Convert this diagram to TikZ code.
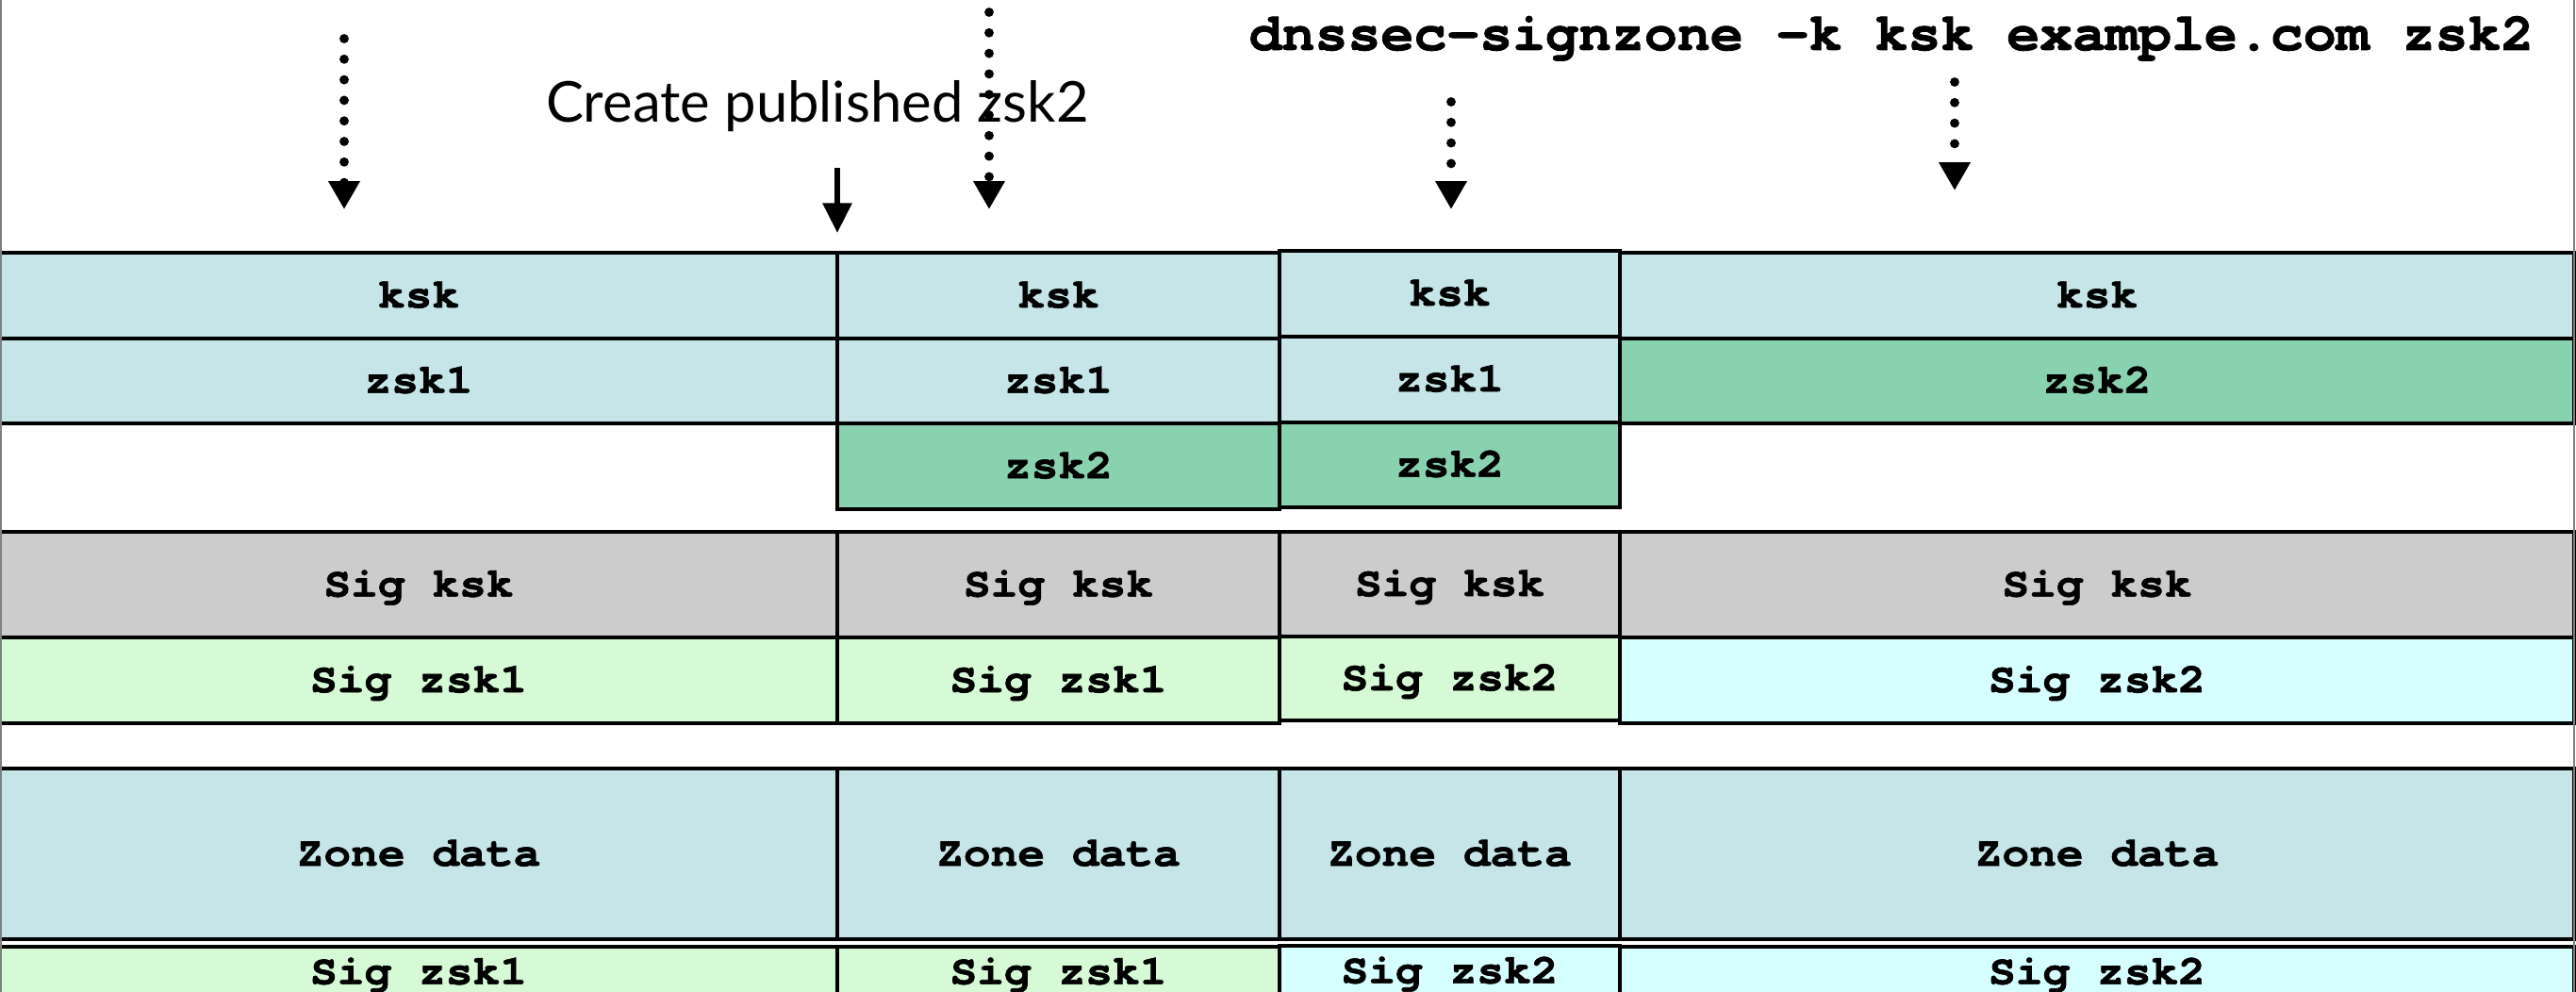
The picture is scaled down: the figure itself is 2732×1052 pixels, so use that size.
\documentclass[tikz,border=0pt]{standalone}
\usepackage{fontspec}
\setmonofont{texgyrecursor}[Extension=.otf, UprightFont=*-regular, BoldFont=*-bold, BoldFeatures={FakeBold=1.5}]
\setsansfont{Lato}
\usetikzlibrary{arrows.meta}
\definecolor{kblue}{HTML}{C5E5E8}
\definecolor{zgreen}{HTML}{89D2B0}
\definecolor{sgray}{HTML}{CCCCCC}
\definecolor{lgreen}{HTML}{D6FAD6}
\definecolor{lcyan}{HTML}{D6FFFF}
\newcommand\mytt[1]{\scalebox{1.09}[1]{#1}}
\newcommand\myhdr[1]{\scalebox{1.035}[1]{#1}}
\newcommand\mkcell[7]{%
  \pgfmathsetmacro\cw{(#4-#2)*0.01}%
  \pgfmathsetmacro\ch{(#5-#3)*0.01}%
  \node[cell, fill=#6, minimum width=\cw cm, minimum height=\ch cm] (#1) at ({(#2+#4)/2},{(#3+#5)/2}) {\mytt{#7}};}
\begin{document}
\begin{tikzpicture}[x=0.01cm,y=-0.01cm,
  cell/.style={draw=black, line width=0.9pt, inner sep=0pt,
    font=\ttfamily\bfseries\fontsize{12.5}{14}\selectfont,
    text height=7.2pt, text depth=0pt},
  hdr/.style={inner sep=0pt, font=\ttfamily\bfseries\fontsize{16}{18}\selectfont},
  lbl/.style={inner sep=0pt, font=\sffamily\fontsize{17}{20}\selectfont},
  dotarrow/.style={line width=2.8pt, dash pattern=on 0pt off 6.2pt, line cap=round,
    -{Triangle[length=8.5pt,width=9pt]}},
  solidarrow/.style={line width=1.8pt, -{Triangle[length=9pt,width=8.5pt]}},
  frame/.style={draw=gray, line width=0.8pt}]
\useasboundingbox (0,0) rectangle (2732,1052);
\clip (0,0) rectangle (2732,1052);
\fill[white] (0,0) rectangle (2732,1052);
% column 1
\mkcell{aksk}{0}{268}{888}{359}{kblue}{ksk}
\mkcell{azsk1}{0}{359}{888}{449}{kblue}{zsk1}
\mkcell{asigk}{0}{564}{888}{676}{sgray}{Sig ksk}
\mkcell{asigz}{0}{676}{888}{767}{lgreen}{Sig zsk1}
\mkcell{azone}{0}{815}{888}{996}{kblue}{Zone data}
\mkcell{abot}{0}{1004}{888}{1058}{lgreen}{Sig zsk1}
% column 2
\mkcell{bksk}{888}{268}{1357}{359}{kblue}{ksk}
\mkcell{bzsk1}{888}{359}{1357}{449}{kblue}{zsk1}
\mkcell{bzsk2}{888}{449}{1357}{540}{zgreen}{zsk2}
\mkcell{bsigk}{888}{564}{1357}{676}{sgray}{Sig ksk}
\mkcell{bsigz}{888}{676}{1357}{767}{lgreen}{Sig zsk1}
\mkcell{bzone}{888}{815}{1357}{996}{kblue}{Zone data}
\mkcell{bbot}{888}{1004}{1357}{1058}{lgreen}{Sig zsk1}
% column 3
\mkcell{cksk}{1357}{266}{1718}{357}{kblue}{ksk}
\mkcell{czsk1}{1357}{357}{1718}{448}{kblue}{zsk1}
\mkcell{czsk2}{1357}{448}{1718}{538}{zgreen}{zsk2}
\mkcell{csigk}{1357}{564}{1718}{675}{sgray}{Sig ksk}
\mkcell{csigz}{1357}{675}{1718}{764}{lgreen}{Sig zsk2}
\mkcell{czone}{1357}{815}{1718}{996}{kblue}{Zone data}
\mkcell{cbot}{1357}{1003}{1718}{1057}{lcyan}{Sig zsk2}
% column 4
\mkcell{dksk}{1718}{268}{2730}{359}{kblue}{ksk}
\mkcell{dzsk2}{1718}{359}{2730}{449}{zgreen}{zsk2}
\mkcell{dsigk}{1718}{564}{2730}{676}{sgray}{Sig ksk}
\mkcell{dsigz}{1718}{676}{2730}{767}{lcyan}{Sig zsk2}
\mkcell{dzone}{1718}{815}{2730}{996}{kblue}{Zone data}
\mkcell{dbot}{1718}{1004}{2730}{1058}{lcyan}{Sig zsk2}
% frame
\draw[frame] (1,0) -- (1,1052);
\draw[frame] (2730,0) -- (2730,1052);
% texts
\node[hdr, anchor=base] (cmd) at (2006,53) {\myhdr{dnssec-signzone -k ksk example.com zsk2}};
\node[lbl, anchor=base] (create) at (867,130) {Create published zsk2};
% arrows
\coordinate (p1s) at (365,41); \coordinate (p1e) at (365,222);
\coordinate (p2s) at (888,178); \coordinate (p2e) at (888,247);
\coordinate (p3s) at (1049,13); \coordinate (p3e) at (1049,222);
\coordinate (p4s) at (1539,108); \coordinate (p4e) at (1539,222);
\coordinate (p5s) at (2073,87); \coordinate (p5e) at (2073,202);
\draw[dotarrow] (p1s) -- (p1e);
\draw[solidarrow] (p2s) -- (p2e);
\draw[dotarrow] (p3s) -- (p3e);
\draw[dotarrow] (p4s) -- (p4e);
\draw[dotarrow] (p5s) -- (p5e);
\end{tikzpicture}
\end{document}
